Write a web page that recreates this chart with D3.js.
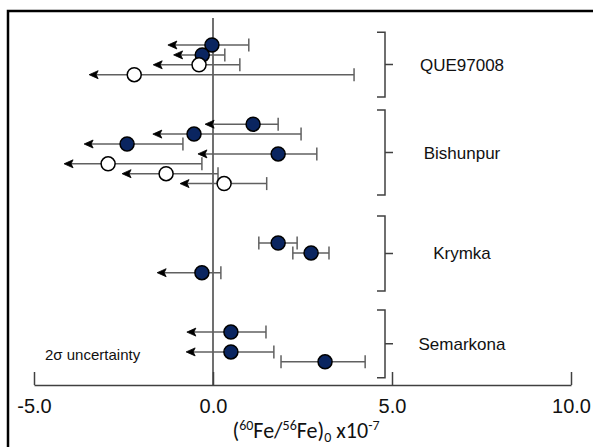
<!DOCTYPE html>
<html>
<head>
<meta charset="utf-8">
<script src="https://cdn.jsdelivr.net/npm/d3@7"></script>
<style>
  html, body { margin: 0; padding: 0; background: #fff; }
  svg { display: block; }
</style>
</head>
<body>
<svg id="chart" width="593" height="447"></svg>
<script>
// ---------------- data ----------------
const groupNames   = ["QUE97008", "Bishunpur", "Krymka", "Semarkona"];
const groupTop     = [-1.3, 6.57, 17.27, 26.77];   // bracket extent in row units
const groupBottom  = [5.25, 15.15, 24.85, 33.6];

const pointRow    = [0, 1, 2, 3,   8, 9, 10, 11, 12, 13, 14,   20, 21, 23,   29, 31, 32];
const pointValue  = [-0.03, -0.3, -0.39, -2.2,   1.12, -0.53, -2.4, 1.82, -2.93, -1.31, 0.31,   1.82, 2.74, -0.31,   0.5, 0.5, 3.13];
const pointUpper  = [1.0, 0.33, 0.75, 3.94,   1.82, 2.46, -0.84, 2.9, -0.31, 0.14, 1.5,   2.35, 3.24, 0.22,   1.48, 1.7, 4.25];
const pointLower  = [-1.26, -1.1, -1.67, -3.46,   -0.22, -1.68, -3.6, -0.42, -4.16, -2.54, -0.92,   1.28, 2.23, -1.56,   -0.73, -0.75, 1.9];
const pointIsLimit = [1, 1, 1, 1,   1, 1, 1, 1, 1, 1, 1,   0, 0, 1,   1, 1, 0];
const pointFilled  = [1, 1, 0, 0,   1, 1, 1, 1, 0, 0, 0,   1, 1, 1,   1, 1, 1];

const tickValues = [-5, 0, 5, 10];
const tickLabels = ["-5.0", "0.0", "5.0", "10.0"];

// ---------------- drawing ----------------
const svg = d3.select("#chart");
const x = d3.scaleLinear().domain([-5, 10]).range([34, 571]);
const y = d3.scaleLinear().domain([0, 32]).range([45, 45 + 32 * 9.9]);
const axisY = 385;

const points = pointRow.map((r, i) => ({
  row: r, v: pointValue[i], hi: pointUpper[i], lo: pointLower[i],
  limit: pointIsLimit[i], filled: pointFilled[i]
}));

// frame
svg.append("rect")
  .attr("x", 8).attr("y", 11).attr("width", 620).attr("height", 460)
  .attr("fill", "none").attr("stroke", "#000").attr("stroke-width", 2.5);

// zero line
svg.append("line")
  .attr("x1", x(0)).attr("x2", x(0)).attr("y1", 18).attr("y2", axisY)
  .attr("stroke", "#404040").attr("stroke-width", 1.5);

// axis
const axis = d3.axisBottom(x)
  .tickValues(tickValues)
  .tickFormat((d, i) => tickLabels[i])
  .tickSizeInner(-13).tickSizeOuter(0).tickPadding(14);
const gAxis = svg.append("g").attr("transform", `translate(0,${axisY})`).call(axis);
gAxis.select(".domain").attr("stroke", "#404040").attr("stroke-width", 1.5);
gAxis.selectAll(".tick line").attr("stroke", "#404040").attr("stroke-width", 1.5);
gAxis.selectAll(".tick text")
  .attr("font-family", "Liberation Sans, Arial, sans-serif")
  .attr("font-size", 20).attr("fill", "#111");

// axis title
const title = svg.append("text")
  .attr("x", 306).attr("y", 438)
  .attr("text-anchor", "middle")
  .attr("font-family", "Carlito, Lato, 'Open Sans', sans-serif")
  .attr("font-size", 22).attr("fill", "#111");
title.append("tspan").text("(");
title.append("tspan").attr("font-size", 14).attr("dy", -8).text("60");
title.append("tspan").attr("dy", 8).text("Fe/");
title.append("tspan").attr("font-size", 14).attr("dy", -8).text("56");
title.append("tspan").attr("dy", 8).text("Fe)");
title.append("tspan").attr("font-size", 14).attr("dy", 4).text("0");
title.append("tspan").attr("dy", -4).text(" x10");
title.append("tspan").attr("font-size", 14).attr("dy", -8).text("-7");

// "2σ uncertainty"
svg.append("text")
  .attr("x", 45).attr("y", 360)
  .attr("font-family", "Liberation Sans, Arial, sans-serif")
  .attr("font-size", 15).attr("fill", "#111")
  .text("2σ uncertainty");

// brackets + labels
const bx0 = 377, bx1 = 385, bx2 = 393;
groupNames.forEach((name, i) => {
  const t = y(groupTop[i]), b = y(groupBottom[i]), m = (t + b) / 2;
  svg.append("path")
    .attr("d", `M${bx0},${t} H${bx1} V${b} H${bx0} M${bx1},${m} H${bx2}`)
    .attr("fill", "none").attr("stroke", "#404040").attr("stroke-width", 1.5);
  svg.append("text")
    .attr("x", 462).attr("y", m + 6)
    .attr("text-anchor", "middle")
    .attr("font-family", "Liberation Sans, Arial, sans-serif")
    .attr("font-size", 17).attr("fill", "#111")
    .text(name);
});

// error bars
const gBars = svg.append("g");
points.forEach(p => {
  const cy = y(p.row);
  gBars.append("line")
    .attr("x1", x(p.lo) + (p.limit ? 4 : 0)).attr("x2", x(p.hi))
    .attr("y1", cy).attr("y2", cy)
    .attr("stroke", "#606060").attr("stroke-width", 1.5);
  // right cap
  gBars.append("line")
    .attr("x1", x(p.hi)).attr("x2", x(p.hi))
    .attr("y1", cy - 6.5).attr("y2", cy + 6.5)
    .attr("stroke", "#606060").attr("stroke-width", 1.5);
  if (p.limit) {
    const tip = x(p.lo);
    gBars.append("path")
      .attr("d", `M${tip},${cy} L${tip + 9},${cy - 4} L${tip + 7},${cy} L${tip + 9},${cy + 4} Z`)
      .attr("fill", "#000").attr("stroke", "#000").attr("stroke-width", 0.8);
  } else {
    gBars.append("line")
      .attr("x1", x(p.lo)).attr("x2", x(p.lo))
      .attr("y1", cy - 6.5).attr("y2", cy + 6.5)
      .attr("stroke", "#606060").attr("stroke-width", 1.5);
  }
});

// circles
svg.append("g").selectAll("circle")
  .data(points)
  .join("circle")
  .attr("cx", d => x(d.v))
  .attr("cy", d => y(d.row))
  .attr("r", 7)
  .attr("fill", d => d.filled ? "#0a2560" : "#fff")
  .attr("stroke", "#000")
  .attr("stroke-width", 1.5);
</script>
</body>
</html>
